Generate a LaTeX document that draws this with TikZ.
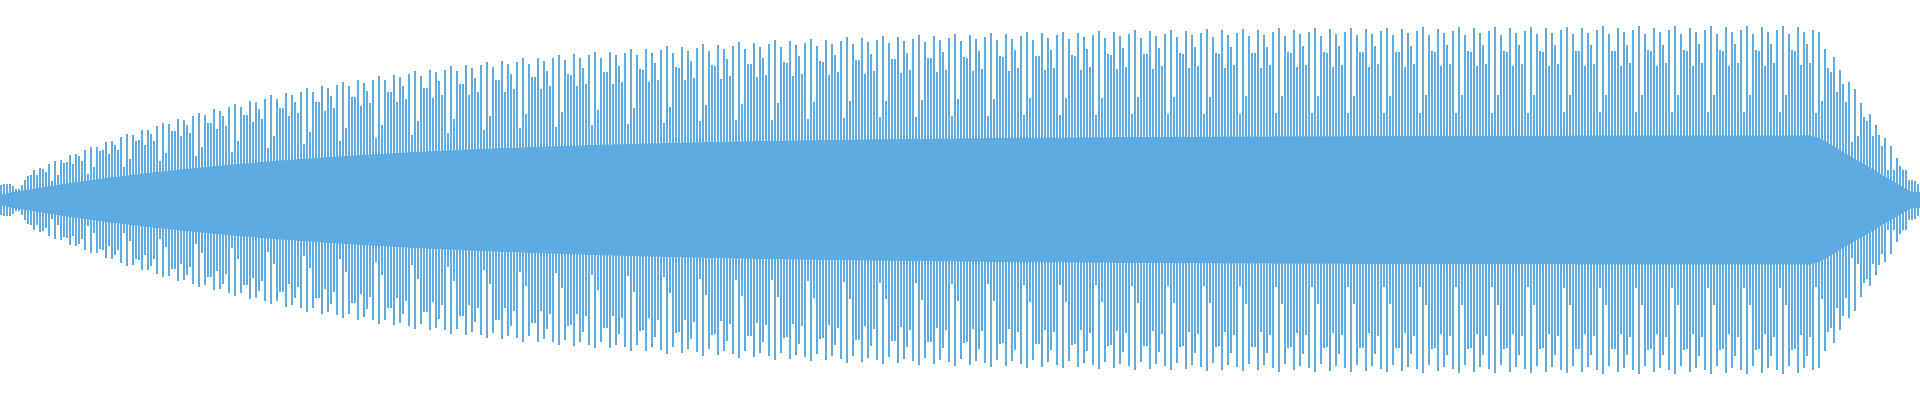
\documentclass[tikz,border=0pt]{standalone}
\definecolor{wave}{RGB}{93,171,226}
\begin{document}
\begin{tikzpicture}[x=0.01cm,y=0.01cm,
  declare function={env(\x)=(15+160*(1-exp(-\x/330)))*min(1,max(0.12,(1925-\x)/110));
                    lobe(\x)=0.4+0.6*abs(cos(5*mod(\x,36)));
                    tall(\x)=0.75+0.25*abs(cos(5*mod(\x+18,36)));}]
\useasboundingbox (0,-200) rectangle (1920,200);
\fill[wave] plot[domain=0:1920,samples=193] (\x,{0.37*env(\x)}) -- plot[domain=1920:0,samples=193] (\x,{-0.37*env(\x)}) -- cycle;
\foreach \i in {0,...,639}{
  \pgfmathsetmacro\xx{3*\i+1}
  \pgfmathsetmacro\la{env(\xx)*lobe(\xx)}
  \pgfmathsetmacro\lb{env(\xx)*tall(\xx)}
  \ifnum\i<10 \pgfmathsetmacro\lb{\la}\fi
  \ifodd\i
    \draw[wave,line width=0.3pt] (\xx,-\la) -- (\xx,\la);
  \else
    \draw[wave,line width=0.3pt] (\xx,-\lb) -- (\xx,\lb);
  \fi
}
\end{tikzpicture}
\end{document}
